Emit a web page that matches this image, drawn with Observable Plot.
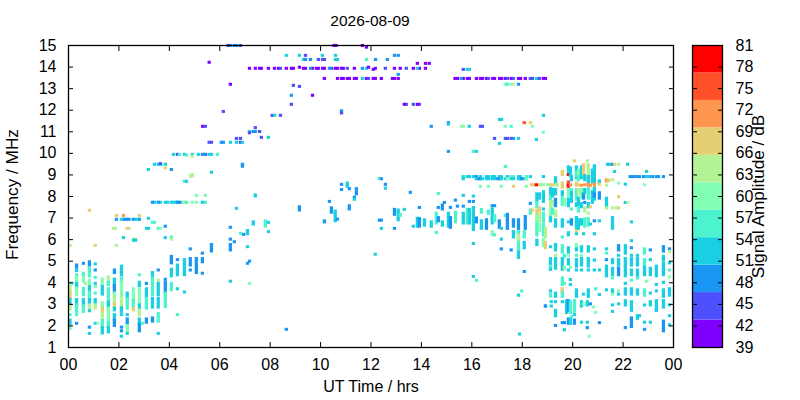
<!DOCTYPE html>
<html><head><meta charset="utf-8">
<script src="https://cdn.jsdelivr.net/npm/d3@7"></script>
<script src="https://cdn.jsdelivr.net/npm/@observablehq/plot@0.6"></script>
<style>
html,body{margin:0;padding:0;background:#fff;}
#wrap{position:relative;width:800px;height:400px;overflow:hidden;font-family:"Liberation Sans",Arial,sans-serif;}
#wrap svg{position:absolute;left:0;top:0;background:transparent;font-family:"Liberation Sans",Arial,sans-serif;}
#title{position:absolute;left:0;width:740px;top:12px;text-align:center;font-size:15.5px;color:#000;}
</style></head><body>
<div id="wrap"><div id="title">2026-08-09</div></div>
<script>
const P=41,I=45,B=49,C=52,T=56,G=60,L=64,K=68,O=71,R=75,X=79;
const title="2026-08-09";
const freqLabel="Frequency / MHz";
const ampLabel="Signal Amplitude / dB";
const hourTicks=[0,2,4,6,8,10,12,14,16,18,20,22,24];
const freqTicks=[1,2,3,4,5,6,7,8,9,10,11,12,13,14,15];
const ampTicks=[39,42,45,48,51,54,57,60,63,66,69,72,75,78,81];
const bandEdges=[42.82,46.64,50.45,54.27,58.09,61.91,65.73,69.55,73.36,77.18];
const bandColors=["#8000ff","#4d50fc","#1996f3","#1acfe2","#4df3ce","#80ffb4","#b3f396","#e6cf73","#ff9650","#ff5028","#ff0000"];
const bandLow=[39,42.82,46.64,50.45,54.27,58.09,61.91,65.73,69.55,73.36,77.18];
const bandHigh=[42.82,46.64,50.45,54.27,58.09,61.91,65.73,69.55,73.36,77.18,81];

// rows of the high-frequency trace: [freq, dB, hours]
const highRows=[
[14.98,P,[6.36,10.55,10.63,11.68]],[14.98,B,[6.44,6.6,6.68]],[14.98,I,[6.84]],[14.9,P,[11.84]],
[14.52,C,[8.66,9.18,10.09,10.61]],[14.52,I,[9.42]],[14.52,B,[12.95,13.1]],
[14.33,C,[9.34,10.61,10.69]],[14.33,B,[9.42,9.62,12.2,12.67]],[14.33,I,[9.93,10.1,10.17]],[14.33,T,[11.84]],
[14.2,P,[5.6]],[14.15,P,[13.86,14.18,14.33]],
[13.92,P,[7.2,7.43,7.6,7.67,7.95,8.19,8.35,8.66,8.86,8.94,9.34,9.42,9.7,9.86,9.93,10.1,10.17,10.6,10.69,10.85,10.92,11.36,12.19,12.95,13.18,13.7,13.94,14.18]],
[13.92,I,[8.43,10.45,11.08,12.59,13.42]],[13.92,B,[9.62,10.37,11.68]],[13.92,C,[11.84,13.86]],[13.97,P,[9.18,11.92]],[13.87,P,[12.11]],
[13.87,I,[15.68]],[13.87,C,[15.84,15.92]],[13.64,B,[13.1]],
[13.45,P,[10.17,10.69,10.85,10.92,11.08,11.16,11.36,11.44,11.84,12.11,12.19,12.43,12.87,12.95,13.1,15.35,15.45,15.68,15.84,15.92,16.2,16.36,16.44,16.6,16.85,16.92,17.12,17.2,17.35,17.58,17.87,17.95,18.14,18.86,18.94]],
[13.45,C,[11.68,18.58]],[13.45,I,[11.92,16.68,17.43,17.67,18.34,18.42,18.7]],[13.45,B,[15.6]],
[13.18,P,[6.44]],[13.13,I,[8.94]],[13.08,I,[9.18]],
[13.18,G,[17.35,17.58]],[13.18,T,[17.43]],[13.18,L,[17.67]],[13.18,B,[17.87]],
[12.67,B,[8.86]],[12.67,P,[9.7]],
[12.25,I,[8.86,13.42,13.7,13.94]],[12.25,P,[13.34,13.86]],
[11.92,I,[6.16]],[11.95,B,[10.85]],[11.85,I,[10.85]],
[11.74,I,[8.1,8.43]],[11.74,C,[8.19,18.86]],[11.55,C,[17.12,17.2]],
[11.4,B,[15.09]],[11.33,C,[15.09]],[11.4,R,[18.1]],[11.4,K,[18.34]],
[11.23,P,[5.34]],[11.23,I,[5.45,16.36,16.44]],[11.23,B,[14.41]],[11.23,L,[15.6]],[11.23,G,[15.68,17.35,18.42]],[11.23,C,[15.92]],[11.23,T,[17.58]],
[11.17,I,[7.43]],[10.99,C,[7.2]],[10.99,B,[7.35,7.43]],[10.99,I,[7.6]],[10.93,I,[7.2]],[10.95,G,[18.86]],
[10.72,I,[7.67]],[10.72,C,[7.95]],[10.67,I,[6.68,6.84,16.92,17.35,17.43,17.58]],[10.67,B,[17.67]],[10.67,C,[17.87]],[10.62,C,[18.58]],
[10.49,I,[5.6,5.69,6.84]],[10.49,B,[6.08,6.16]],[10.49,C,[6.44,6.68,6.92]],[10.44,C,[17.12]],
[10.07,B,[15.09]],[10.07,T,[16.08]],[10.07,C,[16.2]],
[9.93,C,[4.18,4.62,4.93,5.17,5.6,5.69]],[9.93,I,[4.34,5.45]],[9.93,T,[4.42,5.93]],[9.9,T,[4.7]],[9.85,L,[4.93]],[9.93,B,[5.33,5.41]],
[9.63,K,[20.09]],[9.63,L,[20.6]],
[9.47,C,[3.43,3.58,3.86,21.4,21.47,22.2]],[9.45,T,[3.7]],[9.5,I,[3.66]],[9.47,B,[6.92,21.6]],[9.38,B,[6.92]],[9.47,K,[21.68]],[9.47,L,[21.84]],[9.37,T,[17.35]],[9.3,K,[3.86]],
[9.23,C,[3.19]],[9.23,B,[4.1]],[9.1,C,[5.69]],[9.14,C,[21.68,22.95]],
[9,L,[4.93]],[8.93,L,[4.85,4.93]],[8.68,T,[4.62]],[8.68,C,[4.7]],
[8.54,B,[10.85]],[8.6,C,[11.08]],[8.45,C,[11.08]],[8.34,B,[11.16,11.44]],[8.3,B,[10.85]],[8.5,C,[11.08]],
[8.2,B,[11.44]],[8.1,B,[11.44]],[7.95,B,[11.36]],[7.85,C,[11.36]]
];
// rows around 7-9 MHz: [freq, dB, hours]
const midRows=[
[8.03,G,[5.09,5.45]],
[7.71,C,[3.43,3.66,3.86,3.95,4.1,4.18,4.29,4.4,4.62]],[7.71,B,[3.35,3.58,4.34,4.45]],[7.71,L,[4.58]],[7.71,T,[4.7,5.45]],[7.71,G,[4.93,5.09]],[7.71,C,[5.33]],
[7.34,K,[0.85]],[7.1,K,[1.92,2.83]],[7.1,O,[2.2]],
[6.92,B,[1.92,2.2,2.27,2.35,2.42,2.59,2.83]],[6.92,C,[2.12,2.72]],[6.97,C,[3.19]],[6.78,T,[3.35,3.43]],[6.6,B,[3.86]],
[6.5,L,[1.8,1.88,2.42]],[6.5,K,[2.35]],[6.5,C,[3.12,3.19]],[6.5,T,[3.58]],[6.5,G,[3.66]],
[6.07,C,[2.2,3.86]],[6.1,T,[4.1]],[6.0,L,[4.1,2.6,2.68]],[5.95,C,[2.6,2.68]],
[5.71,L,[0.08,1.92]],[5.71,K,[1.08]],
[8.9,C,[15.68,15.84,15.92,16.08,16.36,16.6,16.68,16.83,16.92,17.11,17.19,17.43,17.87,17.95,18.34,18.86]],[8.9,T,[15.76,17.58,17.67,18.18]],[8.9,B,[16.2]],
[8.8,C,[15.68,16.2,16.36,16.44,16.6,16.68,16.83,16.92,17.11,17.19,17.35,17.43,17.58,17.67,17.87,17.95,18.1,18.18]],[8.8,B,[16.3,17.05,18.0]],[8.8,G,[17.43,18.18]],
[8.9,B,[22.3,22.38,22.46,22.59,22.67,22.83,23.07,23.2,23.35,23.42,23.62]],[8.9,C,[22.95,23.02]],
[8.45,G,[16.36,16.68,17.19,18.18]],[8.45,K,[17.67]],
[8.52,K,[18.38,18.46,18.7,19.14,19.22]],[8.52,L,[18.86,19.34]],[8.52,X,[18.58]],[8.52,G,[18.78,19.02]]
];
// columns: [hour, low freq, high freq, dB]
const earlyCols=[
[0.08,3.95,3.95,T],[0.16,3.95,3.95,T],[0.08,3.6,3.85,L],[0.08,3.3,3.55,K],[0.08,2.95,3.2,C],[0.08,2.75,2.92,L],[0.08,2.5,2.5,T],[0.08,2.05,2.25,C],[0.08,1.85,1.95,G],
[0.34,4.7,4.8,B],[0.34,4.55,4.6,C],[0.34,4.35,4.35,T],[0.34,3.97,4.25,G],[0.34,3.8,3.95,C],[0.34,3.42,3.72,G],[0.34,3.0,3.2,C],[0.34,2.65,2.95,T],[0.34,2.5,2.5,T],[0.34,2.1,2.1,B],
[0.61,4.88,4.88,B],[0.61,4.35,4.42,T],[0.61,4.05,4.25,G],[0.69,3.95,3.95,L],[0.61,3.42,3.72,T],[0.61,2.95,3.2,C],[0.61,2.65,2.92,T],
[0.85,4.8,4.95,B],[0.85,4.3,4.65,T],[0.85,3.9,4.1,G],[0.85,3.65,3.8,C],[0.85,3.3,3.55,T],[0.85,3.0,3.2,C],[0.85,2.78,2.95,L],[0.85,2.68,2.68,C],[0.85,1.92,1.92,B],[0.85,1.63,1.63,C],
[1.08,4.85,4.85,C],[1.08,4.57,4.57,B],[1.08,4.23,4.23,T],[1.08,3.95,3.95,C],[1.08,3.8,3.8,G],[1.08,3.5,3.5,T],[1.08,3.05,3.2,C],[1.08,2.8,2.95,L],[1.08,2.1,2.1,C],[1.16,2.1,2.1,G],
[1.36,3.9,4.15,G],[1.36,3.45,3.8,C],[1.36,2.87,3.05,G],[1.36,2.6,2.8,K],[1.36,2.4,2.55,L],[1.36,1.95,2.25,T],[1.36,1.65,1.9,C],
[1.6,4.05,4.25,L],[1.6,3.9,4.0,T],[1.6,3.25,3.7,T],[1.6,2.87,3.1,C],[1.6,2.2,2.8,G],[1.6,1.95,2.15,T],[1.6,1.7,1.9,C],
[1.84,4.45,4.57,B],[1.84,3.9,4.15,C],[1.84,3.55,3.85,B],[1.84,3.3,3.5,G],[1.84,3.05,3.3,L],[1.84,2.85,3.0,K],[1.84,2.72,2.8,C],[1.84,2.3,2.5,C],[1.84,2.0,2.25,B],
[2.12,4.35,4.75,C],[2.12,4.0,4.2,T],[2.12,3.3,4.0,G],[2.12,2.85,3.25,L],[2.12,2.65,2.82,C],[2.12,2.5,2.5,C],[2.12,1.92,1.92,B],[2.12,1.75,1.75,B],[2.12,1.5,1.5,C],
[2.35,3.3,3.5,C],[2.35,2.8,3.25,T],[2.35,2.5,2.5,C],[2.35,2.1,2.3,B],[2.35,1.72,2.0,G],[2.35,1.63,1.63,C],
[2.59,3.2,3.7,G],[2.59,2.85,3.15,T],[2.59,2.72,2.8,K],
[2.83,4.35,4.35,T],[2.83,3.85,4.0,C],[2.83,3.0,3.7,G],[2.83,2.8,2.95,C],[2.83,2.5,2.72,L],[2.83,2.1,2.3,C],[2.83,1.75,2.05,B],[2.95,2.1,2.1,T],
[3.11,3.95,3.95,B],[3.11,3.35,3.7,C],[3.11,2.8,3.25,T],[3.11,2.15,2.3,B],
[3.35,4.3,4.45,C],[3.35,4.1,4.2,T],[3.35,3.42,4.0,T],[3.35,2.85,3.25,C],[3.35,2.2,2.35,B],
[3.58,4.57,4.57,B],[3.58,4.1,4.1,L],[3.58,3.42,3.95,C],[3.58,2.85,3.25,C],[3.58,2.2,2.55,T],[3.58,1.63,1.63,C],
[3.86,4.14,4.14,B],[3.86,3.55,4.0,B],[3.86,3.3,3.5,T],[3.86,2.87,3.2,T],
[4.1,4.9,5.2,B],[4.1,4.3,4.6,C],[4.1,3.65,3.95,T],
[4.34,5.05,5.05,B],[4.34,4.35,4.8,C],[4.34,3.7,3.7,C],[4.34,2.5,2.5,T],
[4.62,4.35,5.05,C],[4.62,3.55,3.55,C],
[4.85,5.55,5.55,B],[4.85,4.8,5.1,B],[4.85,4.57,4.57,B],
[5.09,4.45,5.1,B],[5.33,5.35,5.35,B],[5.33,4.95,5.1,B],[5.33,4.42,4.42,B],
[5.69,5.45,5.75,B],
[6.44,6.55,6.55,B],[6.44,6.0,6.0,B],[6.44,5.5,5.75,B],[6.44,4.05,4.05,C],[6.6,5.88,5.88,B],[6.68,7.43,7.43,C],[6.85,6.27,6.27,T],[6.97,6.22,6.22,B],
[7.12,6.25,6.4,C],[7.12,5.65,5.65,C],[7.12,4.88,4.88,B],[7.2,4.98,4.98,B],[7.2,3.95,3.95,G],[7.35,6.7,6.8,C],[7.43,8.0,8.05,C],
[7.83,6.6,6.85,T],[7.95,6.78,6.78,C],[7.95,6.35,6.35,C],[8.66,1.82,1.82,B],[9.18,7.35,7.5,B],
[10.17,6.8,6.85,B],[10.37,7.75,7.75,B],[10.45,7.25,7.45,B],[10.6,6.85,7.3,C],[10.69,6.93,6.93,B],[11.16,7.4,7.55,B],[12.19,5.3,5.3,C]
];
const midDayCols=[
[12.35,8.82,8.82,T],[12.43,8.8,8.8,B],[12.59,8.54,8.54,B],[12.59,8.36,8.36,C],[13.58,8.17,8.17,B],[14.69,8.12,8.12,T],
[12.35,6.88,6.88,B],[12.43,6.88,6.88,B],[12.43,6.5,6.5,C],[12.95,7.15,7.38,B],[12.95,6.5,6.5,B],[13.1,6.9,7.35,C],[13.18,7.1,7.15,T],[13.34,7.38,7.38,C],
[13.7,6.6,6.6,C],[13.94,7.47,7.47,B],[13.86,6.6,6.97,C],[13.94,6.6,6.95,B],[14.14,6.65,6.9,C],[14.41,6.6,6.8,C],[14.61,6.75,7.2,T],[14.61,6.31,6.31,T],
[14.69,7.47,7.47,B],[14.69,6.85,7.0,B],[14.85,7.4,7.58,B],[14.85,6.65,6.8,C],[14.93,7.7,7.7,B],[15.09,6.6,7.2,C],[15.17,7.47,7.47,B],[15.17,6.55,7.0,B],
[15.37,7.81,7.81,B],[15.37,6.8,7.25,T],[15.45,7.53,7.53,B],[15.68,8.03,8.03,C],[15.68,7.53,7.53,B],[15.68,6.75,7.2,C],[15.84,6.75,7.38,T],[15.92,6.75,7.38,C],[15.92,7.75,7.75,B],
[16.08,8.0,8.0,C],[16.08,7.75,7.75,B],[16.08,6.45,7.47,C],[16.2,6.8,6.98,B],[16.08,5.8,5.8,C],[16.08,4.27,4.27,C],[16.2,4.09,4.09,T],
[16.4,7.25,7.38,T],[16.4,6.5,6.85,C],[16.6,6.5,6.9,B],[16.68,7.2,7.3,T],[16.83,7.55,7.55,B],[16.92,7.55,7.55,B],[16.83,6.75,7.4,C],[16.92,6.85,7.1,T],[16.83,6.2,6.35,G],[16.92,6.2,6.2,T],
[17.11,6.55,6.85,B],[17.19,6.5,6.5,C],[17.19,6.0,6.0,C],[17.19,5.55,5.55,B],[17.35,7.1,7.1,T],[17.43,6.5,7.15,B],[17.58,5.5,5.5,B],[17.67,6.6,6.9,B],[17.67,6.1,6.35,C],
[17.87,6.5,6.9,B],[17.87,5.5,6.35,T],[17.87,6.0,6.2,L],[17.87,5.15,5.4,C],[18.1,4.5,4.5,B],[17.87,3.4,3.4,C],[18.0,3.6,3.6,T],[18.14,6.5,7.05,B],[18.1,6.1,6.35,T],[18.1,5.6,5.85,C],
[18.34,7.66,7.66,B],[18.34,7.2,7.35,T],[18.42,7.35,7.35,K],
[18.6,7.8,8.1,C],[18.6,7.5,7.7,T],[18.6,7.1,7.35,K],[18.6,6.85,7.05,G],[18.6,6.2,6.75,T],[18.6,5.75,5.95,C],
[18.7,7.9,8.1,C],[18.7,7.3,7.45,K],[18.7,6.85,7.2,L],[18.7,6.4,6.7,G],
[18.86,7.75,8.2,C],[18.86,7.4,7.4,C],[18.86,6.85,7.2,T],[18.86,6.2,6.7,T],[18.86,5.7,6.0,G],
[18.94,5.6,5.85,K],[18.94,6.1,6.5,L],[18.94,2.9,2.9,B],
[19.14,8.05,8.35,C],[19.14,7.85,8.0,T],[19.14,7.3,7.7,L],[19.14,7.1,7.25,G],[19.14,6.85,7.0,C],[19.14,5.65,5.65,C],
[19.22,8.0,8.3,C],[19.22,7.6,7.75,L],[19.22,7.2,7.4,T]
];
// evening columns
const eveningCols=[
[19.34,8.65,8.85,C],[19.34,8.1,8.3,C],[19.34,7.55,7.85,B],[19.34,7.1,7.3,L],[19.34,6.6,6.9,C],[19.34,5.75,5.75,T],[19.41,8.5,8.55,L],
[19.61,9.0,9.15,K],[19.61,8.4,8.6,K],[19.61,8.05,8.2,C],[19.61,7.6,7.9,T],[19.61,6.6,6.9,C],[19.61,6.1,6.1,T],[19.69,7.6,7.85,G],
[19.85,9.35,9.15,C],[19.85,9.0,9.0,X],[19.85,8.4,8.65,R],[19.85,8.5,8.5,X],[19.85,8.0,8.3,G],[19.85,7.55,7.85,C],[19.85,6.8,6.8,C],[19.85,6.2,6.3,C],[19.93,8.95,9.3,C],[19.93,8.52,8.52,O],
[19.97,8.75,8.9,C],[19.97,8.2,8.3,T],[19.97,7.75,8.15,C],[19.97,7.4,7.4,T],[19.97,6.7,6.9,B],
[20.17,8.85,9.35,C],[20.17,8.95,9.1,T],[20.17,8.5,8.6,K],[20.17,7.85,8.3,T],[20.17,7.55,7.65,C],[20.17,6.5,7.0,C],[20.17,6.4,6.4,K],[20.17,6.25,6.25,C],
[20.25,9.0,9.2,G],[20.25,8.75,8.9,T],[20.25,8.52,8.52,K],[20.25,8.1,8.3,L],[20.25,7.6,7.9,C],[20.25,7.3,7.45,T],[20.25,6.5,6.9,C],
[20.37,8.85,9.35,C],[20.45,9.0,9.45,K],[20.37,8.5,8.5,O],[20.37,7.95,8.3,G],[20.37,7.5,7.65,C],[20.37,6.7,6.9,C],[20.45,7.9,8.1,B],[20.45,6.25,6.25,C],
[20.5,8.75,8.95,C],[20.5,8.52,8.52,O],[20.5,8.15,8.3,C],[20.5,7.7,7.7,B],[20.5,7.3,7.45,L],[20.5,6.6,6.95,T],
[20.64,9.0,9.45,L],[20.64,8.65,8.9,C],[20.64,8.5,8.55,O],[20.64,7.9,8.35,T],[20.64,7.5,7.65,C],[20.64,7.2,7.2,L],[20.64,6.65,6.95,T],[20.72,8.5,8.5,O],[20.72,7.5,7.5,K],
[20.8,8.65,9.2,C],[20.8,7.7,8.2,C],
[20.88,8.65,9.4,C],[20.88,8.5,8.55,O],[20.88,7.85,8.35,C],[20.88,8.0,8.1,B],[20.88,6.85,6.85,B],[20.88,6.25,6.25,C],[20.72,6.7,6.7,C],
[21.08,8.6,8.7,C],[21.08,8.55,8.55,K],[21.08,7.9,8.15,B],[21.08,6.85,6.85,C],
[21.36,8.7,8.75,O],[21.36,8.5,8.5,L],[21.36,7.55,7.9,C],[21.36,7.45,7.45,L],[21.6,8.75,8.75,L],[21.6,7.45,7.45,L],[21.6,6.5,7.0,C],[21.44,8.7,8.75,K],
[21.84,8.6,8.6,G],[21.84,7.97,7.97,K],[21.84,7.45,7.45,K],[21.75,7.45,7.45,L],[22.11,8.55,8.55,C],[22.11,7.7,7.7,C],[22.2,7.7,7.7,L],[22.35,6.8,6.8,C],[22.35,5.93,5.93,C],[22.87,8.52,8.52,G],
[19.14,4.6,5.1,C],[19.14,4.75,4.75,T],[19.34,5.5,5.75,C],[19.34,5.25,5.25,L],[19.34,4.65,5.1,C],
[19.61,5.4,5.7,T],[19.61,4.6,5.1,C],[19.69,5.2,5.25,T],[19.69,4.65,4.7,G],[19.85,5.4,5.6,C],[19.85,5.25,5.25,G],[19.85,4.85,5.05,C],[19.85,4.57,4.57,C],[19.93,4.7,4.7,G],
[20.17,5.6,5.75,G],[20.17,5.5,5.55,C],[20.17,5.25,5.25,T],[20.17,4.75,5.05,C],[20.17,4.57,4.57,C],[20.37,5.45,5.65,C],[20.37,5.25,5.25,G],[20.37,4.8,5.1,C],[20.37,4.57,4.57,C],
[20.64,5.45,5.65,C],[20.64,4.75,5.1,C],[20.64,4.57,4.57,C],[20.88,5.55,5.55,C],[20.88,5.03,5.03,C],[20.88,4.57,4.57,C],[21.08,4.57,4.57,C],
[21.36,5.55,5.55,C],[21.36,5.35,5.35,T],[21.36,5.05,5.05,B],[21.36,4.3,4.75,C],[21.6,4.9,5.05,C],[21.6,4.35,4.65,C],[21.6,4.2,4.2,T],[21.84,5.5,5.7,B],[21.84,5.25,5.25,C],[21.84,4.8,5.05,C],[21.84,4.35,4.65,B],
[22.11,5.35,5.7,C],[22.11,4.8,5.1,C],[22.11,4.3,4.72,C],[22.11,3.95,3.95,C],[22.35,5.6,5.6,B],[22.35,5.25,5.25,C],[22.35,4.8,5.1,C],[22.35,4.35,4.57,C],[22.35,4.1,4.1,T],
[22.59,5.25,5.25,C],[22.59,4.8,5.1,C],[22.59,4.25,4.57,C],[22.59,4.2,4.2,T],[22.87,5.35,5.55,T],[22.87,4.8,5.05,T],[22.87,4.35,4.7,C],[22.95,4.05,4.05,G],
[23.1,5.5,5.5,B],[23.1,5.05,5.05,C],[23.1,4.35,4.65,C],[23.34,4.3,4.75,C],[23.34,3.9,3.9,C],[23.62,5.45,5.65,B],[23.62,5.05,5.2,C],[23.62,4.65,4.9,C],[23.62,4.35,4.57,C],[23.62,4.0,4.0,C],
[23.86,5.55,5.55,B],[23.86,5.42,5.42,L],[23.86,4.9,4.9,C],[23.86,4.57,4.57,T],[23.86,4.25,4.25,G],
[19.14,3.6,3.6,C],[19.14,3.35,3.45,T],[19.34,3.35,3.5,C],[19.61,3.9,4.2,T],[19.69,3.95,3.95,T],[19.61,3.6,3.6,C],[19.61,3.6,3.7,K],[19.61,3.35,3.5,T],[19.93,4.13,4.13,C],[19.93,3.9,3.9,C],
[20.17,3.35,3.65,C],[20.45,3.45,3.45,C],[20.64,3.35,3.65,C],[20.93,3.7,3.7,T],[21.08,3.43,3.43,C],[21.36,3.65,3.65,C],[21.6,3.55,3.65,C],[21.6,3.45,3.45,G],[21.84,3.6,3.6,G],[21.84,3.45,3.45,C],
[22.11,3.45,3.7,C],[22.35,3.45,3.7,C],[22.59,3.45,3.65,C],[22.87,3.4,3.65,T],[23.1,3.5,3.5,C],[23.34,3.6,3.6,C],[23.62,3.35,3.65,C],[23.86,3.4,3.7,C],
[18.94,2.9,2.9,B],[19.17,3.1,3.1,C],[19.17,2.9,2.9,C],[19.34,3.1,3.1,C],[19.61,3.1,3.1,C],[19.78,2.6,3.15,C],[19.85,2.7,3.15,B],[19.93,2.6,3.1,T],[20.09,2.65,3.15,T],[20.37,2.9,3.1,C],[20.45,3.0,3.0,G],
[20.6,2.95,3.1,C],[20.72,3.0,3.0,B],[20.84,2.85,2.85,G],[20.93,2.6,2.6,G],[21.6,2.95,2.95,C],[21.6,2.65,2.65,C],[21.84,3.0,3.0,C],[22.11,2.95,3.15,C],[22.35,2.7,3.1,C],[22.59,2.45,2.45,C],
[22.87,2.95,2.95,C],[23.1,2.95,3.1,C],[23.34,2.7,3.15,C],[23.62,2.85,3.15,C],[23.86,2.95,2.95,C],
[19.34,2.45,2.7,C],[19.34,2.0,2.0,B],[19.61,2.13,2.13,B],[19.69,2.13,2.13,B],[19.85,2.1,2.3,B],[19.93,2.1,2.3,C],[19.97,2.4,2.4,T],[20.09,2.5,2.5,C],[20.09,2.1,2.25,B],[20.37,2.15,2.15,C],[20.6,2.15,2.15,C],[20.6,1.9,1.9,B],
[21.08,2.13,2.13,B],[22.11,1.9,1.9,B],[22.35,1.95,2.35,B],[22.59,2.33,2.33,C],[22.67,2.45,2.45,C],[22.87,2.15,2.15,C],[23.1,2.15,2.15,C],[23.34,2.7,2.7,C],[23.62,1.75,2.2,B],[23.86,2.45,2.45,C],[23.86,2.03,2.03,C],[22.87,1.82,1.82,B],
[19.69,1.8,1.8,C],[17.91,1.6,1.6,C],[20.68,1.5,1.5,G]
];

const cells=[];
for(const [f,db,hours] of [...highRows,...midRows]) for(const t of hours) cells.push({t,lo:f,hi:f,db});
for(const [t,a,b,db] of [...earlyCols,...midDayCols,...eveningCols]) cells.push({t,lo:Math.min(a,b),hi:Math.max(a,b),db});

const ink="#000", w=800, h=400;
const main=Plot.plot({
  width:w,height:h,marginLeft:68,marginRight:127,marginTop:45,marginBottom:53,
  style:{fontFamily:"Liberation Sans, Arial, sans-serif",fontSize:"16px",color:ink,background:"transparent"},
  x:{domain:[0,24]},y:{domain:[1,15]},
  color:{type:"threshold",domain:bandEdges,range:bandColors},
  marks:[
    Plot.rect(cells,{x1:d=>d.t-0.065,x2:d=>d.t+0.065,y1:d=>d.lo-0.07,y2:d=>d.hi+0.07,fill:"db"}),
    Plot.frame({stroke:ink,strokeWidth:1.3}),
    Plot.axisX({anchor:"bottom",ticks:hourTicks,tickSize:-5,tickPadding:16,tickFormat:d=>String(d%24).padStart(2,"0"),label:"UT Time / hrs",labelAnchor:"center",labelArrow:"none",labelOffset:44,fontSize:16,strokeWidth:1}),
    Plot.axisX({anchor:"top",ticks:hourTicks,tickSize:-5,tickFormat:()=>"",label:null,strokeWidth:1}),
    Plot.axisY({anchor:"left",ticks:freqTicks,tickSize:-5,tickPadding:17,tickFormat:d=>String(d),label:null,fontSize:16,strokeWidth:1}),
    Plot.axisY({anchor:"right",ticks:freqTicks,tickSize:-5,tickFormat:()=>"",label:null,strokeWidth:1}),
    Plot.text([freqLabel],{frameAnchor:"left",rotate:-90,dx:-56,dy:-2,fontSize:17.2,fill:ink,text:d=>d,textAnchor:"middle"})
  ]
});
const bar=Plot.plot({
  width:w,height:h,marginLeft:692,marginRight:78,marginTop:45,marginBottom:53,
  style:{fontFamily:"Liberation Sans, Arial, sans-serif",fontSize:"16px",color:ink,background:"transparent"},
  x:{domain:[0,1],axis:null},y:{domain:[39,81]},
  color:{type:"threshold",domain:bandEdges,range:bandColors},
  marks:[
    Plot.rect(bandLow.map((lo,i)=>({lo,hi:bandHigh[i]})),{x1:0,x2:1,y1:"lo",y2:"hi",fill:d=>(d.lo+d.hi)/2}),
    Plot.frame({stroke:ink,strokeWidth:1.3}),
    Plot.axisY({anchor:"right",ticks:ampTicks,tickSize:-5,tickPadding:18,tickFormat:d=>String(d),label:null,fontSize:16,strokeWidth:1}),
    Plot.axisY({anchor:"left",ticks:ampTicks,tickSize:-5,tickFormat:()=>"",label:null,strokeWidth:1}),
    Plot.text([ampLabel],{frameAnchor:"right",rotate:-90,dx:36,fontSize:17.2,fill:ink,text:d=>d,textAnchor:"middle"})
  ]
});
document.getElementById("title").textContent=title;
const wrap=document.getElementById("wrap");
wrap.append(main,bar);
</script></body></html>
